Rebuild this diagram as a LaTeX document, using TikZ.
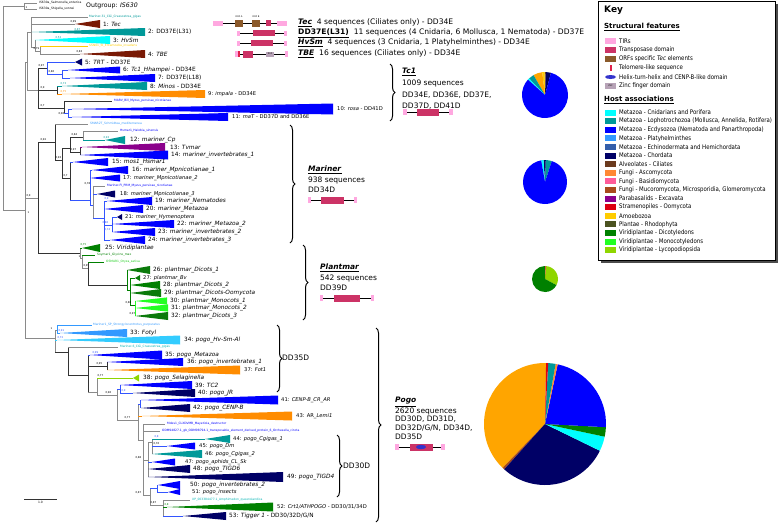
\documentclass[tikz,border=0pt]{standalone}
\usepackage{fontspec}
\usepackage{graphicx}
\setmainfont{DejaVu Sans}
\usetikzlibrary{decorations.pathreplacing}
\definecolor{cCn}{HTML}{00FFFF}
\definecolor{cLo}{HTML}{009999}
\definecolor{cEc}{HTML}{0000FF}
\definecolor{cPl}{HTML}{3399FF}
\definecolor{cEh}{HTML}{335EAA}
\definecolor{cCh}{HTML}{000066}
\definecolor{cAl}{HTML}{6B3A1E}
\definecolor{cAs}{HTML}{FF8833}
\definecolor{cBa}{HTML}{FF5C9A}
\definecolor{cMu}{HTML}{A84A1C}
\definecolor{cPa}{HTML}{8B008B}
\definecolor{cSt}{HTML}{DD0011}
\definecolor{cAm}{HTML}{FFCC00}
\definecolor{cRh}{HTML}{4B5320}
\definecolor{cDi}{HTML}{008000}
\definecolor{cMo}{HTML}{22FF22}
\definecolor{cLy}{HTML}{8FD600}
\definecolor{cTB}{HTML}{7A1A05}
\definecolor{cOr}{HTML}{FF8C00}
\definecolor{cPo}{HTML}{FFA500}
\definecolor{cSky}{HTML}{33CCFF}
\definecolor{cBl}{HTML}{3355FF}
\definecolor{cGr}{HTML}{8A8A8A}
\definecolor{cTIR}{HTML}{FFA8E0}
\definecolor{cTp}{HTML}{CC3366}
\definecolor{cORF}{HTML}{8B5A2B}
\definecolor{cZnF}{HTML}{B7A3B7}
\definecolor{cTel}{HTML}{E0204A}
\definecolor{cHTH}{HTML}{3333CC}
\definecolor{cDG}{HTML}{0B7A0B}
\newcommand{\tri}[5]{\fill[#5] (#1,#3) -- (#2,#3-#4) -- (#2,#3+#4) -- cycle;}
\newcommand{\pieslice}[5]{\fill[#5] (#1) -- ++({-(#2)}:#4) arc[start angle={-(#2)}, end angle={-(#3)}, radius=#4] -- cycle;}
\newcommand{\kx}[1]{\scalebox{0.86}[1]{#1}}
\tikzset{
 gb/.style={draw=cGr, line width=0.8pt},
 kb/.style={draw=black!80, line width=0.8pt},
 cb/.style={draw=#1, line width=0.8pt},
 labL/.style={anchor=west, inner sep=0pt, font=\fontsize{5.8}{6.5}\selectfont},
 labS/.style={anchor=west, inner sep=0pt, font=\fontsize{5.2}{6}\selectfont},
 tax/.style={anchor=west, inner sep=0pt, font=\fontsize{3}{3.5}\selectfont},
 bs/.style={anchor=south west, inner sep=0.3pt, font=\fontsize{2.6}{3}\selectfont},
 brc/.style={decorate, decoration={brace, amplitude=5pt}, line width=1pt},
 info/.style={anchor=west, inner sep=0pt, font=\fontsize{7.5}{9}\selectfont},
 sinfo/.style={anchor=west, inner sep=0pt, font=\fontsize{7.6}{8.5}\selectfont},
 keyt/.style={anchor=west, inner sep=0pt, font=\fontsize{6.3}{7}\selectfont},
 keyh/.style={anchor=west, inner sep=0pt, font=\bfseries\fontsize{7}{8}\selectfont},
 dline/.style={draw=black, line width=0.5pt},
}
\begin{document}
\begin{tikzpicture}[x=1pt,y=-1pt]
\useasboundingbox (0,0) rectangle (778,525);
% ---------- root and outgroup
\draw[gb] (3,6) -- (3,210);
\draw[gb] (3,6) -- (24,6);
\draw[gb] (24,3) -- (24,9);
\draw[gb] (24,3) -- (37,3);
\draw[gb] (24,9) -- (37,9);
\node[tax] (og1) at (39,3) {IS630a\_Salmonella\_enterica};
\node[tax] (og2) at (39,9) {IS630a\_Shigella\_sonnei};
\node[anchor=west, inner sep=0pt, font=\fontsize{6.2}{7}\selectfont] (ogl) at (86,6) {Outgroup: \textit{IS630}};
\node[bs] (b1) at (25,9) {1};
\draw[gb] (3,210) -- (25,210);
\node[bs, anchor=north west] (b2) at (27,211) {1};
\draw[gb] (25,62) -- (25,338);
% ---------- Tec group
\draw[gb] (25,62) -- (27,62);
\draw[gb] (27,32) -- (27,90);
\draw[gb] (27,32) -- (31,32);
\draw[gb] (31,17) -- (31,47);
\draw[gb] (31,17) -- (88,17);
\node[tax, text=cLo] (x1) at (89,17) {Mariner-31\_CGi\_Crassostrea\_gigas};
\draw[gb] (31,24) -- (75,24);
\tri{75}{100}{24}{4}{cTB}
\node[labL] (t1) at (103,24) {1: \textit{Tec}};
\node[bs] (b3) at (70,23) {0,99};
\tri{32}{145}{32}{4}{cLo}
\node[labL] (t2) at (148,32) {2: DD37E(L31)};
\node[bs, text=cLo] (b4) at (74,31) {0,87};
\draw[gb] (31,47) -- (35,47);
\draw[gb] (35,40) -- (35,51);
\tri{35}{110}{40}{4}{cCn}
\node[labL] (t3) at (113,40) {3: \textit{HvSm}};
\node[bs, text=cLo] (b5) at (55,39) {0,53};
\draw[gb] (35,51) -- (40,51);
\node[bs] (b6) at (33,50) {0,79};
\draw[gb] (40,46) -- (40,54);
\draw[cb=cAm] (40,46) -- (88,46);
\node[tax, text=cAm] (x2) at (89,46) {SSN01\_SI\_Entamoeba\_invadens};
\draw[gb] (40,54) -- (80,54);
\tri{80}{145}{54}{4}{cTB}
\node[bs] (b7) at (76,53) {0,83};
\node[labL] (t4) at (148,54) {4: \textit{TBE}};
% ---------- Tc1
\draw[gb] (27,90) -- (38,90);
\draw[kb] (38,68) -- (38,108);
\draw[kb] (38,68) -- (47,68);
\node[bs] (b8) at (38,67) {0,97};
\draw[cb=cBl] (47,62) -- (47,74);
\draw[cb=cBl] (47,62) -- (75,62);
\tri{75}{82}{62}{3.5}{cCh}
\node[labL] (t5) at (85,62) {5: \textit{TRT} - DD37E};
\draw[cb=cBl] (47,74) -- (62,74);
\node[bs] (b9) at (48,73.5) {0,86};
\draw[cb=cBl] (62,70) -- (62,78);
\draw[cb=cBl] (62,70) -- (68,70);
\tri{68}{120}{70}{3.5}{cEc}
\node[labL] (t6) at (123,70) {6: \textit{Tc1\_Hhampei} - DD34E};
\draw[cb=cBl] (62,78) -- (70,78);
\tri{70}{155}{78}{4}{cEc}
\node[labL] (t7) at (158,78) {7: DD37E(L18)};
\draw[kb] (38,90) -- (57,90);
\node[bs] (b10) at (40,89.5) {0,9};
\draw[kb] (57,86) -- (57,94);
\draw[cb=cLo] (57,86) -- (62,86);
\tri{62}{147}{86}{4}{cLo}
\node[bs, text=cLo] (b11) at (60,85) {0,73};
\node[labL] (t8) at (150,86) {8: \textit{Minos} - DD34E};
\draw[cb=cOr] (57,94) -- (62,94);
\tri{62}{205}{94}{4}{cOr}
\node[bs, text=cOr] (b12) at (60,93) {0,75};
\node[labS] (t9) at (208,94) {9: \textit{impala} - DD34E};
\draw[kb] (38,108) -- (64,108);
\node[bs] (b13) at (40,107.5) {0,7};
\draw[kb] (64,101) -- (64,113);
\draw[kb] (64,101) -- (112,101);
\node[tax, text=cEc] (x3) at (114,101) {MARV\_Bill\_Myzus\_persicae\_nicotianae};
\draw[cb=cBl] (64,113) -- (68,113);
\node[bs] (b14) at (58,115) {0,96};
\draw[cb=cBl] (68,109) -- (68,117);
\draw[cb=cBl] (68,109) -- (72,109);
\tri{72}{333}{109}{5.5}{cEc}
\node[labS] (t10) at (337,109) {10: \textit{rosa} - DD41D};
\draw[cb=cBl] (68,117) -- (72,117);
\tri{72}{228}{117}{4}{cEc}
\node[labS] (t11) at (232,117) {11: \textit{maT} - DD37D and DD36E};
% ---------- Mariner
\draw[gb] (25,198) -- (38,198);
\node[bs] (b15) at (26,197.5) {0,9};
\draw[kb] (38,142) -- (38,253);
\draw[kb] (38,142) -- (55,142);
\node[bs] (b16) at (40,141.5) {0,92};
\draw[kb] (55,124) -- (55,160);
\draw[gb] (55,124) -- (88,124);
\node[tax, text=cPl] (x4) at (90,124) {SMAR2T\_Schmidtea\_mediterranea};
\draw[kb] (55,160) -- (62,160);
\node[bs] (b17) at (55,159.5) {0,93};
\draw[kb] (62,148) -- (62,178);
\draw[kb] (62,148) -- (70,148);
\draw[kb] (70,137) -- (70,152);
\draw[kb] (70,137) -- (83,137);
\node[bs] (b18) at (71,136.5) {0,84};
\draw[gb] (83,131) -- (83,140);
\draw[gb] (83,131) -- (118,131);
\node[tax, text=cEc] (x5) at (120,131) {Hsmar1\_Halobia\_sinensis};
\draw[cb=cLo] (83,140) -- (105,140);
\tri{105}{125}{140}{4}{cLo}
\node[bs, text=cLo] (b19) at (103,139) {0,93};
\node[labL] (t12) at (130,140) {12: \textit{mariner\_Cp}};
\draw[kb] (70,152) -- (80,152);
\node[bs] (b20) at (70,151.5) {0,97};
\draw[kb] (80,147) -- (80,155);
\draw[cb=cPa] (80,147) -- (82,147);
\tri{82}{165}{147}{4}{cPa}
\node[labL] (t13) at (170,147) {13: \textit{Tvmar}};
\tri{80}{168}{155}{4.5}{cEc}
\node[labL] (t14) at (171,155) {14: \textit{mariner\_invertebrates\_1}};
\draw[kb] (62,178) -- (70,178);
\node[bs] (b21) at (63,177.5) {0,7};
\draw[kb] (70,162) -- (70,200);
\draw[cb=cBl] (70,162) -- (73,162);
\tri{73}{108}{162}{4}{cEc}
\node[labL] (t15) at (112,162) {15: \textit{mos1\_Hsmar1}};
\draw[cb=cBl] (70,200) -- (90,200);
\draw[cb=cBl] (90,170) -- (90,205);
\draw[cb=cBl] (90,170) -- (92,170);
\tri{92}{128}{170}{4}{cEc}
\node[labL] (t16) at (132,170) {16: \textit{mariner\_Mpnicotianae\_1}};
\tri{90}{120}{178}{3.5}{cEc}
\node[labS] (t17) at (123,178) {17: \textit{mariner\_Mpnicotianae\_2}};
\draw[cb=cBl] (90,205) -- (93,205);
\draw[gb] (93,186) -- (93,218);
\draw[gb] (93,186) -- (105,186);
\node[bs] (b22) at (84,185.5) {0,78};
\node[tax, text=cEc] (x6) at (107,186) {Mariner-FI\_PRM\_Myzus\_persicae\_nicotianae};
\draw[cb=cBl] (93,194) -- (97,194);
\tri{97}{115}{194}{3.5}{cCh}
\node[labS] (t18) at (120,194) {18: \textit{mariner\_Mpnicotianae\_3}};
\draw[cb=cBl] (93,218) -- (104,218);
\draw[cb=cBl] (104,201) -- (104,240);
\draw[cb=cBl] (104,201) -- (107,201);
\node[bs, text=cBl] (b23) at (104,200) {0,9};
\tri{107}{152}{201}{4}{cEc}
\node[labL] (t19) at (155,201) {19: \textit{mariner\_Nematodes}};
\tri{104}{143}{209}{4}{cEc}
\node[labL] (t20) at (146,209) {20: \textit{mariner\_Metazoa}};
\draw[cb=cBl] (104,225) -- (112,225);
\node[bs, text=cBl] (b24) at (102,224.5) {0,86};
\draw[cb=cBl] (112,217) -- (112,232);
\draw[cb=cBl] (112,217) -- (117,217);
\tri{117}{122}{217}{3}{cCh}
\node[labS] (t21) at (125,217) {21: \textit{mariner\_Hymenoptera}};
\tri{112}{174}{224}{4}{cEc}
\node[labL] (t22) at (177,224) {22: \textit{mariner\_Metazoa\_2}};
\tri{112}{155}{232}{4}{cEc}
\node[bs, text=cBl] (b25) at (104,231.5) {0,74};
\node[labL] (t23) at (158,232) {23: \textit{mariner\_invertebrates\_2}};
\draw[cb=cBl] (104,240) -- (110,240);
\tri{110}{145}{240}{4}{cEc}
\node[labL] (t24) at (148,240) {24: \textit{mariner\_invertebrates\_3}};
% ---------- Plantmar
\draw[kb] (38,253) -- (80,253);
\draw[gb] (80,248) -- (80,258);
\draw[cb=cDi] (80,248) -- (82,248);
\tri{82}{100}{248}{4}{cDi}
\node[bs, text=cDi] (b26) at (80,246) {0,75};
\node[labL] (t25) at (105,248) {25: \textit{Viridiplantae}};
\draw[gb] (80,258) -- (82,258);
\node[bs] (b27) at (78,257.5) {1};
\draw[gb] (82,255) -- (82,268);
\draw[cb=cDi] (82,255) -- (95,255);
\node[tax, text=cDi] (x7) at (97,255) {Soymar1\_Glycine\_max};
\draw[gb] (82,268) -- (88,268);
\node[bs] (b28) at (83,267.5) {0,99};
\draw[kb] (88,262) -- (88,285);
\draw[cb=cDi] (88,262) -- (104,262);
\node[tax, text=cMo!80!black] (x8) at (106,262) {OSMAR1\_Oryza\_sativa};
\draw[kb] (88,285) -- (127,285);
\draw[cb=cDi] (127,270) -- (127,290);
\tri{127}{150}{270}{4}{cDG}
\node[labL] (t26) at (153,270) {26: \textit{plantmar\_Dicots\_1}};
\draw[cb=cDi] (127,290) -- (130,290);
\draw[cb=cDi] (130,278) -- (130,305);
\draw[cb=cDi] (130,278) -- (135,278);
\tri{135}{140}{278}{3}{cDG}
\node[labS] (t27) at (143,278) {27: \textit{plantmar\_Bv}};
\tri{130}{160}{285}{4}{cDi}
\node[labL] (t28) at (163,285) {28: \textit{plantmar\_Dicots\_2}};
\tri{130}{161}{293}{4}{cDG}
\node[labL] (t29) at (164,293) {29: \textit{plantmar\_Dicots-Oomycota}};
\draw[cb=cDi] (130,305) -- (135,305);
\node[bs] (b29) at (125,304.5) {0,88};
\draw[cb=cMo] (135,301) -- (135,316);
\tri{135}{167}{301}{3.6}{cMo}
\node[labL] (t30) at (170,301) {30: \textit{plantmar\_Monocots\_1}};
\tri{135}{168}{308}{3.6}{cMo}
\node[labL] (t31) at (171,308) {31: \textit{plantmar\_Monocots\_2}};
\tri{135}{168}{316}{4}{cDG}
\node[bs] (b30) at (129,315.5) {0,97};
\node[labL] (t32) at (171,316) {32: \textit{plantmar\_Dicots\_3}};
% ---------- Pogo
\draw[gb] (25,338) -- (55,338);
\draw[gb] (55,330) -- (55,352);
\draw[gb] (55,330) -- (57,330);
\node[bs] (b31) at (50,329.5) {1};
\draw[cb=cPl] (57,325) -- (57,333);
\draw[cb=cPl] (57,325) -- (92,325);
\node[tax, text=cPl] (x9) at (93,325) {Mariner1\_SP\_Strongylocentrotus\_purpuratus};
\draw[cb=cPl] (57,333) -- (60,333);
\tri{60}{127}{333}{4}{cPl}
\node[bs, text=cBl] (b32) at (58,332) {0,91};
\node[labL] (t33) at (130,333) {33: \textit{Fotyl}};
\draw[cb=cSky] (55,340) -- (57,340);
\tri{57}{180}{340}{4.5}{cSky}
\node[bs, text=cBl] (b33) at (57,339) {0,72};
\node[labL] (t34) at (184,340) {34: \textit{pogo\_Hv-Sm-Al}};
\draw[kb] (55,352) -- (68,352);
\draw[kb] (68,347) -- (68,375);
\draw[gb] (68,347) -- (118,347);
\node[tax, text=cCn!70!black] (x10) at (120,347) {Mariner-6\_CGi\_Crassostrea\_gigas};
\draw[kb] (68,375) -- (88,375);
\draw[kb] (88,355) -- (88,392);
\draw[cb=cBl] (88,355) -- (90,355);
\tri{90}{162}{355}{4.5}{cEc}
\node[bs, text=cBl] (b34) at (92,354) {0,99};
\node[labL] (t35) at (165,355) {35: \textit{pogo\_Metazoa}};
\draw[kb] (88,366) -- (107,366);
\node[bs] (b35) at (96,365.5) {0,95};
\draw[kb] (107,362) -- (107,370);
\tri{107}{183}{362}{4}{cEc}
\node[labL] (t36) at (187,362) {36: \textit{pogo\_invertebrates\_1}};
\tri{107}{240}{370}{4.5}{cOr}
\node[labS] (t37) at (244,370) {37: \textit{Fot1}};
\draw[gb] (88,392) -- (97,392);
\draw[gb] (97,378) -- (97,395);
\draw[cb=cLy] (97,378) -- (133,378);
\node[bs] (b36) at (97,377.5) {0,77};
\tri{133}{139}{378}{3.5}{cLy}
\node[labL] (t38) at (143,378) {38: \textit{pogo\_Selaginella}};
\draw[gb] (97,395) -- (117,395);
\node[bs] (b37) at (105,394.5) {0,96};
\draw[gb] (117,389) -- (117,420);
\draw[cb=cBl] (117,389) -- (120,389);
\draw[cb=cBl] (120,385) -- (120,393);
\tri{120}{192}{385}{4}{cEc}
\node[labL] (t39) at (195,385) {39: \textit{TC2}};
\draw[cb=cBl] (120,393) -- (133,393);
\node[bs, text=cBl] (b38) at (121,392.5) {0,9};
\tri{133}{195}{393}{4}{cCh}
\node[labL] (t40) at (198,393) {40: \textit{pogo\_JR}};
\draw[gb] (117,420) -- (138,420);
\node[bs] (b39) at (124,419.5) {0,77};
\draw[gb] (138,404) -- (138,440);
\draw[cb=cBl] (138,404) -- (140,404);
\draw[cb=cBl] (140,400) -- (140,408);
\tri{141}{278}{400}{4.5}{cEc}
\node[labS] (t41) at (281,400) {41: \textit{CENP-B\_CR\_AR}};
\tri{141}{190}{408}{4}{cCh}
\node[labL] (t42) at (193,408) {42: \textit{pogo\_CENP-B}};
\draw[cb=cOr] (138,416) -- (142,416);
\tri{142}{292}{416}{4.5}{cOr}
\node[labS] (t43) at (296,416) {43: AR\_\textit{Lemi1}};
\draw[gb] (138,440) -- (143,440);
\draw[gb] (143,424) -- (143,495);
\draw[gb] (143,424) -- (165,424);
\node[tax, text=cEc] (x11) at (167,424) {Mdes1\_CLXDVMB\_Mayetiola\_destructor};
\draw[gb] (143,431) -- (160,431);
\node[tax, text=cEc] (x12) at (162,431) {ODM94827.1\_gb\_ODM98794.1\_transposable\_element\_derived\_protein\_6\_Orchesella\_cincta};
\draw[gb] (143,460) -- (148,460);
\node[bs] (b40) at (135,459.5) {0,88};
\draw[gb] (148,442) -- (148,477);
\draw[gb] (148,442) -- (152,442);
\draw[gb] (152,439) -- (152,454);
\draw[cb=cLo] (152,439) -- (205,439);
\node[bs, text=cBl] (b41) at (154,438.5) {0,8};
\tri{205}{230}{439}{4}{cLo}
\node[labS] (t44) at (233,439) {44: \textit{pogo\_Cgigas\_1}};
\draw[cb=cBl] (152,446) -- (167,446);
\node[bs] (b42) at (153,445.5) {0,76};
\tri{167}{195}{446}{3.5}{cEc}
\node[labS] (t45) at (199,446) {45: \textit{pogo\_Dm}};
\tri{152}{202}{454}{4}{cLo}
\node[labS] (t46) at (205,454) {46: \textit{pogo\_Cgigas\_2}};
\draw[cb=cBl] (148,462) -- (152,462);
\tri{152}{175}{462}{3.5}{cEc}
\node[labS] (t47) at (185,462) {47: \textit{pogo\_aphids\_CL\_Sk}};
\tri{148}{190}{469}{4}{cCh}
\node[labL] (t48) at (193,469) {48: \textit{pogo\_TIGD6}};
\tri{148}{283}{477}{5}{cCh}
\node[labL] (t49) at (287,477) {49: \textit{pogo\_TIGD4}};
\draw[gb] (143,495) -- (150,495);
\node[bs] (b43) at (135,494.5) {0,87};
\draw[gb] (150,488) -- (150,505);
\draw[cb=cBl] (150,488) -- (157,488);
\draw[cb=cBl] (157,485) -- (157,492);
\tri{158}{180}{485}{4}{cEc}
\node[labL] (t50) at (190,485) {50: \textit{pogo\_invertebrates\_2}};
\draw[cb=cBl] (157,492) -- (168,492);
\tri{168}{180}{492}{3}{cEc}
\node[labS] (t51) at (192,492) {51: \textit{pogo\_insects}};
\draw[gb] (150,505) -- (163,505);
\node[bs] (b44) at (150,504.5) {0,87};
\draw[gb] (163,500) -- (163,516);
\draw[gb] (163,500) -- (190,500);
\node[tax, text=cCn!70!black] (x13) at (192,500) {XP\_003384477.1\_Amphimedon\_queenslandica};
\draw[cb=cDi] (163,507) -- (167,507);
\tri{167}{273}{507}{4.5}{cDi}
\node[bs, text=cDi] (b45) at (164,506) {0,8};
\node[labS] (t52) at (277,507) {52: \textit{Crt1/ATHPOGO} - DD30/31/34D};
\draw[cb=cBl] (163,516) -- (183,516);
\tri{183}{226}{516}{4}{cCh}
\node[labL] (t53) at (229,516) {53: \textit{Tigger 1} - DD30/32D/G/N};
% scale bar
\draw[kb, line width=0.6pt] (24,499) -- (57,499);
\node[tax, anchor=north] (sc) at (40.5,501) {1.0};
% ---------- top structures
\draw[dline] (223,23) -- (277,23);
\fill[cTIR] (213,20.5) rectangle (223,25.5);
\fill[cORF] (235,19.5) rectangle (243,26.5);
\fill[cORF] (252,19.5) rectangle (260,26.5);
\node[inner sep=0pt, font=\fontsize{2.3}{2.5}\selectfont] (oa) at (239,17) {ORF A};
\node[inner sep=0pt, font=\fontsize{2.3}{2.5}\selectfont] (ob) at (256,17) {ORF B};
\fill[cTp] (266,20) rectangle (271,26);
\fill[cTIR] (277,20.5) rectangle (287,25.5);
\draw[dline] (240,33) -- (284,33);
\fill[cTIR] (237,30.5) rectangle (240,35.5);
\fill[cTp] (253,30) rectangle (275,36);
\fill[cTIR] (284,30.5) rectangle (287,35.5);
\draw[dline] (240,43) -- (284,43);
\fill[cTIR] (237,40.5) rectangle (240,45.5);
\fill[cTp] (251,40) rectangle (273,46);
\fill[cTIR] (284,40.5) rectangle (287,45.5);
\draw[dline] (240,54) -- (285,54);
\fill[cTIR] (235,51) rectangle (238,57);
\fill[cTel] (238,51) rectangle (240,57);
\fill[cTp] (243,50.5) rectangle (253,57.5);
\fill[cZnF] (266,51.5) rectangle (274,56.5);
\node[inner sep=0pt, font=\fontsize{2.3}{2.5}\selectfont] (zf) at (270,54) {ZnF};
\fill[cTIR] (285,51) rectangle (288,57);
\node[sinfo] (d1) at (298,23) {\underline{\textbf{\textit{Tec}}}\ \ 4 sequences (Ciliates only) - DD34E};
\node[sinfo] (d2) at (298,33) {\underline{\textbf{DD37E(L31)}}\ \ 11 sequences (4 Cnidaria, 6 Mollusca, 1 Nematoda) - DD37E};
\node[sinfo] (d3) at (298,43) {\underline{\textbf{\textit{HvSm}}}\ \ 4 sequences (3 Cnidaria, 1 Platyhelminthes) - DD34E};
\node[sinfo] (d4) at (298,54) {\underline{\textbf{\textit{TBE}}}\ \ 16 sequences (Ciliates only) - DD34E};
% ---------- braces and group texts
\draw[brc] (390,64) -- (390,121);
\node[info] (tc1a) at (402,72) {\underline{\textbf{\textit{Tc1}}}};
\node[info] (tc1b) at (402,83) {1009 sequences};
\node[info] (tc1c) at (402,95) {DD34E, DD36E, DD37E,};
\node[info] (tc1d) at (402,106) {DD37D, DD41D};
\draw[dline] (407,112) -- (449,112);
\fill[cTIR] (403,109) rectangle (407,115);
\fill[cTp] (417,108.5) rectangle (439,115.5);
\fill[cTIR] (449,109) rectangle (453,115);
\draw[brc] (290,125) -- (290,243);
\node[info] (ma) at (308,170) {\underline{\textbf{\textit{Mariner}}}};
\node[info] (mb) at (308,180) {938 sequences};
\node[info] (mc) at (308,190) {DD34D};
\draw[dline] (311,200) -- (354,200);
\fill[cTIR] (308,197) rectangle (311,203);
\fill[cTp] (321,196.5) rectangle (344,203.5);
\fill[cTIR] (354,197) rectangle (357,203);
\draw[brc] (303,245) -- (303,320);
\node[info] (pa) at (320,268) {\underline{\textbf{\textit{Plantmar}}}};
\node[info] (pb) at (320,278) {542 sequences};
\node[info] (pc) at (320,288) {DD39D};
\draw[dline] (323,298) -- (371,298);
\fill[cTIR] (320,295) rectangle (323,301);
\fill[cTp] (334,294.5) rectangle (360,301.5);
\fill[cTIR] (371,295) rectangle (374,301);
\draw[brc] (277,325) -- (277,392);
\node[info] (d35) at (282,358) {DD35D};
\draw[brc] (337,435) -- (337,497);
\node[info] (d30) at (343,466) {DD30D};
\draw[brc] (376,328) -- (376,522);
\node[info] (poa) at (395,402) {\underline{\textbf{\textit{Pogo}}}};
\node[info] (pob) at (395,411) {2620 sequences};
\node[info] (poc) at (395,419.5) {DD30D, DD31D,};
\node[info] (pod) at (395,428) {DD32D/G/N, DD34D,};
\node[info] (poe) at (395,437) {DD35D};
\draw[dline] (399,447) -- (441,447);
\fill[cTIR] (395,444) rectangle (399,450);
\fill[cTp] (410,443.5) rectangle (433,450.5);
\fill[cHTH] (421,447) ellipse [x radius=5, y radius=2.2];
\fill[cTIR] (441,444) rectangle (445,450);
% ---------- pies
\coordinate (pT) at (545,95);
\coordinate (pM) at (545,182);
\coordinate (pL) at (545,279);
\coordinate (pP) at (545,424);
\pieslice{pT}{75}{88}{23}{cCh}
\pieslice{pT}{88}{91}{23}{cAl}
\pieslice{pT}{91}{97}{23}{cAm}
\pieslice{pT}{97}{120}{23}{cPo}
\pieslice{pT}{120}{134}{23}{cLo}
\pieslice{pT}{134}{138}{23}{cCn}
\pieslice{pT}{138}{435}{23}{cEc}
\pieslice{pM}{72}{88}{22}{cLo}
\pieslice{pM}{88}{94}{22}{cCh}
\pieslice{pM}{94}{100}{22}{cCn}
\pieslice{pM}{100}{432}{22}{cEc}
\pieslice{pL}{-28}{87}{13}{cLy}
\pieslice{pL}{87}{91}{13}{cSt}
\pieslice{pL}{91}{332}{13}{cDi}
\pieslice{pP}{89}{226}{61}{cPo}
\pieslice{pP}{226}{228}{61}{cMu}
\pieslice{pP}{228}{334}{61}{cCh}
\pieslice{pP}{334}{348}{61}{cCn}
\pieslice{pP}{348}{357}{61}{cDi}
\pieslice{pP}{357}{438}{61}{cEc}
\pieslice{pP}{438}{440}{61}{cAs}
\pieslice{pP}{440}{447}{61}{cLo}
\pieslice{pP}{447}{449}{61}{cSt}
% ---------- key
\fill[black!70] (601,4) rectangle (778,263);
\draw[fill=white, line width=0.6pt] (598,1) rectangle (775,260);
\node[anchor=west, inner sep=0pt, font=\bfseries\fontsize{9}{10}\selectfont] (kt) at (604,10) {Key};
\node[keyh] (ks) at (604,27) {\underline{Structural features}};
\fill[cTIR] (605,38) rectangle (616,44);
\node[keyt] (k1) at (619,41) {\kx{TIRs}};
\fill[cTp] (605,47) rectangle (616,53);
\node[keyt] (k2) at (619,50) {\kx{Transposase domain}};
\fill[cORF] (605,56) rectangle (616,62);
\node[keyt] (k3) at (619,59) {\kx{ORFs specific \textit{Tec} elements}};
\fill[cTel] (609.5,64.5) rectangle (611.5,70.5);
\node[keyt] (k4) at (619,67.5) {\kx{Telomere-like sequence}};
\fill[cHTH] (610.5,77) ellipse [x radius=5.5, y radius=2];
\node[keyt] (k5) at (619,77) {\kx{Helix-turn-helix and CENP-B-like domain}};
\fill[cZnF] (605,83) rectangle (616,89);
\node[inner sep=0pt, font=\fontsize{2.3}{2.5}\selectfont] (kz) at (610.5,86) {ZnF};
\node[keyt] (k6) at (619,86) {\kx{Zinc finger domain}};
\node[keyh] (kh) at (604,100) {\underline{Host associations}};
\foreach \c/\t [count=\i from 0] in {
 cCn/{Metazoa - Cnidarians and Porifera},
 cLo/{Metazoa - Lophotrochozoa (Mollusca, Annelida, Rotifera)},
 cEc/{Metazoa - Ecdysozoa (Nematoda and Panarthropoda)},
 cPl/{Metazoa - Platyhelminthes},
 cEh/{Metazoa - Echinodermata and Hemichordata},
 cCh/{Metazoa - Chordata},
 cAl/{Alveolates - Ciliates},
 cAs/{Fungi - Ascomycota},
 cBa/{Fungi - Basidiomycota},
 cMu/{Fungi - Mucoromycota, Microsporidia, Glomeromycota},
 cPa/{Parabasalids - Excavata},
 cSt/{Stramenopiles - Oomycota},
 cAm/{Amoebozoa},
 cRh/{Plantae - Rhodophyta},
 cDi/{Viridiplantae - Dicotyledons},
 cMo/{Viridiplantae - Monocotyledons},
 cLy/{Viridiplantae - Lycopodiopsida}}{
 \fill[\c] (605,{112.5+8.6*\i-3}) rectangle (616,{112.5+8.6*\i+3});
 \node[keyt] (h\i) at (619,{112.5+8.6*\i}) {\kx{\t}};
}
\end{tikzpicture}
\end{document}
